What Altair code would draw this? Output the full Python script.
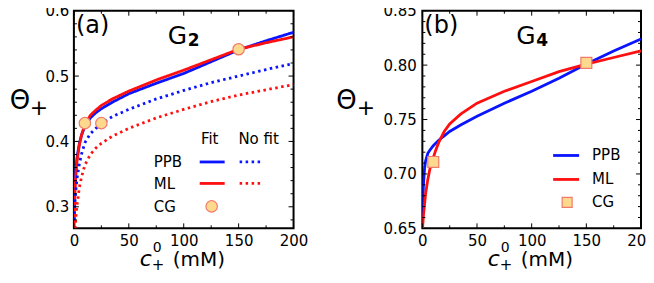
import altair as alt
import pandas as pd

# ---------------- data: panel (a) G2 ----------------
a_x_fit = [0.2, 0.5, 1, 2, 3, 5, 7, 10, 15, 20, 25, 35, 50, 75, 100, 125, 150, 175, 200]
a_ppb_fit = [0.300, 0.318, 0.338, 0.362, 0.377, 0.397, 0.410, 0.423, 0.436, 0.444, 0.450, 0.460,
             0.473, 0.489, 0.504, 0.522, 0.540, 0.554, 0.567]
a_ml_fit = [0.268, 0.300, 0.326, 0.354, 0.372, 0.395, 0.410, 0.426, 0.440, 0.448, 0.455, 0.465,
            0.477, 0.494, 0.509, 0.525, 0.541, 0.551, 0.560]
a_x_nofit = [0.3, 0.5, 1, 1.5, 2, 3, 5, 7, 10, 15, 20, 25, 35, 50, 75, 100, 125, 150, 175, 200]
a_ppb_nofit = [0.280, 0.290, 0.308, 0.320, 0.330, 0.345, 0.366, 0.381, 0.398, 0.412, 0.420, 0.427,
               0.438, 0.449, 0.465, 0.478, 0.490, 0.500, 0.510, 0.519]
a_ml_nofit = [0.230, 0.245, 0.262, 0.275, 0.288, 0.304, 0.330, 0.346, 0.364, 0.380, 0.390, 0.397,
              0.408, 0.420, 0.436, 0.449, 0.461, 0.471, 0.479, 0.487]
a_cg_x = [10, 25, 150]
a_cg_y = [0.428, 0.428, 0.541]

# ---------------- data: panel (b) G4 ----------------
b_x = [0.2, 0.5, 1, 2, 3, 5, 7, 10, 12, 15, 20, 25, 35, 50, 75, 100, 125, 150, 175, 200]
b_ppb = [0.660, 0.675, 0.690, 0.705, 0.712, 0.719, 0.722, 0.726, 0.728, 0.731, 0.735, 0.739,
         0.745, 0.753, 0.765, 0.776, 0.788, 0.801, 0.813, 0.824]
b_ml = [0.650, 0.655, 0.662, 0.672, 0.682, 0.695, 0.705, 0.715, 0.721, 0.729, 0.739, 0.746,
        0.755, 0.765, 0.776, 0.785, 0.794, 0.801, 0.807, 0.813]
b_cg_x = [10, 150]
b_cg_y = [0.711, 0.802]

x_major = [0, 50, 100, 150, 200]
x_minor = [25, 75, 125, 175]
a_y_major = [0.3, 0.4, 0.5, 0.6]
a_y_minor = [0.28, 0.32, 0.34, 0.36, 0.38, 0.42, 0.44, 0.46, 0.48, 0.52, 0.54, 0.56, 0.58]
b_y_major = [0.65, 0.70, 0.75, 0.80, 0.85]
b_y_minor = [0.66, 0.67, 0.68, 0.69, 0.71, 0.72, 0.73, 0.74, 0.76, 0.77, 0.78, 0.79,
             0.81, 0.82, 0.83, 0.84]

W_A, W_B, H = 220, 219, 218
FONT = "DejaVu Sans"
BLUE, RED = "#0a14ff", "#ff1010"
CG_FILL, CG_STROKE = "#fdd98e", "#f27a6a"

one = pd.DataFrame({"k": [0]})


def txt(t, x, y, size, align="left", baseline="middle", weight="normal", style="normal"):
    return alt.Chart(one).mark_text(text=t, font=FONT, fontSize=size, align=align,
                                    baseline=baseline, fontWeight=weight, fontStyle=style,
                                    color="black").encode(x=alt.value(x), y=alt.value(y))


def ticks(ys_major, ys_minor, W, xdom, ydom):
    xs_sc = alt.Scale(domain=xdom, nice=False, zero=False)
    ys_sc = alt.Scale(domain=ydom, nice=False, zero=False)
    layers = []
    for vals, ln in ((x_major, 5), (x_minor, 3)):
        d = pd.DataFrame({"v": vals})
        base = alt.Chart(d).mark_rule(color="black", strokeWidth=1)
        layers.append(base.encode(x=alt.X("v:Q", scale=xs_sc),
                                  y=alt.value(H), y2=alt.value(H - ln)))
        layers.append(base.encode(x=alt.X("v:Q", scale=xs_sc),
                                  y=alt.value(0), y2=alt.value(ln)))
    for vals, ln in ((ys_major, 5), (ys_minor, 3)):
        d = pd.DataFrame({"v": vals})
        base = alt.Chart(d).mark_rule(color="black", strokeWidth=1)
        layers.append(base.encode(y=alt.Y("v:Q", scale=ys_sc),
                                  x=alt.value(0), x2=alt.value(ln)))
        layers.append(base.encode(y=alt.Y("v:Q", scale=ys_sc),
                                  x=alt.value(W), x2=alt.value(W - ln)))
    return layers


def xtitle(W):
    c = W / 2 - 44
    return [
        txt("c", c, 256, 22, baseline="alphabetic", style="italic"),
        txt("0", c + 13, 237.5, 14),
        txt("+", c + 12, 254.5, 15),
        txt("(mM)", c + 33, 256, 20, baseline="alphabetic"),
    ]


# ---------------- panel (a) ----------------
rows = []
for x, y in zip(a_x_fit, a_ppb_fit):
    rows.append({"x": x, "y": y, "s": "PPB fit"})
for x, y in zip(a_x_fit, a_ml_fit):
    rows.append({"x": x, "y": y, "s": "ML fit"})
for x, y in zip(a_x_nofit, a_ppb_nofit):
    rows.append({"x": x, "y": y, "s": "PPB no fit"})
for x, y in zip(a_x_nofit, a_ml_nofit):
    rows.append({"x": x, "y": y, "s": "ML no fit"})
df_a = pd.DataFrame(rows)

a_xdom, a_ydom = [0, 200], [0.267, 0.6]
xa = alt.Scale(domain=a_xdom, nice=False, zero=False)
ya = alt.Scale(domain=a_ydom, nice=False, zero=False)
x_axis = alt.Axis(values=x_major, title=None, ticks=False, domain=False, grid=False,
                  labelFont=FONT, labelFontSize=15, labelColor="black", labelPadding=5,
                  labelFlush=False)
ya_axis = alt.Axis(values=a_y_major, format=".1f", title=None, ticks=False, domain=False,
                   grid=False, labelFont=FONT, labelFontSize=15, labelColor="black",
                   labelPadding=5)

series_order = ["PPB no fit", "ML no fit", "PPB fit", "ML fit"]
lines_a = alt.Chart(df_a).mark_line(clip=True, strokeWidth=2.8).encode(
    x=alt.X("x:Q", scale=xa, axis=x_axis),
    y=alt.Y("y:Q", scale=ya, axis=ya_axis),
    color=alt.Color("s:N", scale=alt.Scale(domain=series_order, range=[BLUE, RED, BLUE, RED]),
                    legend=None),
    strokeDash=alt.StrokeDash("s:N", scale=alt.Scale(domain=series_order,
                                                      range=[[2.5, 3.5], [2.5, 3.5], [1, 0], [1, 0]]),
                              legend=None),
    order=alt.Order("x:Q"),
    detail="s:N",
)
cg_a = alt.Chart(pd.DataFrame({"x": a_cg_x, "y": a_cg_y})).mark_point(
    shape="circle", filled=True, size=130, fill=CG_FILL, stroke=CG_STROKE, strokeWidth=1.2,
    opacity=1).encode(x=alt.X("x:Q", scale=xa), y=alt.Y("y:Q", scale=ya))

legend_a = [
    txt("Fit", 136, 129, 15, align="center"),
    txt("No fit", 185, 129, 15, align="center"),
    txt("PPB", 80, 151.5, 15),
    txt("ML", 80, 173.5, 15),
    txt("CG", 80, 196.5, 15),
    alt.Chart(one).mark_rule(color=BLUE, strokeWidth=2.8).encode(
        x=alt.value(126), x2=alt.value(151), y=alt.value(151.5)),
    alt.Chart(one).mark_rule(color=RED, strokeWidth=2.8).encode(
        x=alt.value(126), x2=alt.value(151), y=alt.value(173)),
    alt.Chart(one).mark_rule(color=BLUE, strokeWidth=2.8, strokeDash=[2.5, 3.5]).encode(
        x=alt.value(166), x2=alt.value(189), y=alt.value(151.5)),
    alt.Chart(one).mark_rule(color=RED, strokeWidth=2.8, strokeDash=[2.5, 3.5]).encode(
        x=alt.value(166), x2=alt.value(189), y=alt.value(173)),
    alt.Chart(one).mark_point(shape="circle", filled=True, size=130, fill=CG_FILL,
                              stroke=CG_STROKE, strokeWidth=1.2, opacity=1).encode(
        x=alt.value(138), y=alt.value(196)),
]

labels_a = [
    txt("(a)", 2, 15, 24),
    txt("G", 94, 33, 25, baseline="alphabetic"),
    txt("2", 114, 35, 17, baseline="alphabetic", weight="bold"),
    txt("\u0398", -54, 90, 26, align="center"),
    txt("+", -35, 97, 22, align="center"),
]

panel_a = alt.layer(
    lines_a, cg_a, *ticks(a_y_major, a_y_minor, W_A, a_xdom, a_ydom),
    *legend_a, *labels_a, *xtitle(W_A),
).properties(width=W_A, height=H)

# ---------------- panel (b) ----------------
rows = []
for x, y in zip(b_x, b_ppb):
    rows.append({"x": x, "y": y, "s": "PPB"})
for x, y in zip(b_x, b_ml):
    rows.append({"x": x, "y": y, "s": "ML"})
df_b = pd.DataFrame(rows)

b_xdom, b_ydom = [0, 200], [0.65, 0.85]
xb = alt.Scale(domain=b_xdom, nice=False, zero=False)
yb = alt.Scale(domain=b_ydom, nice=False, zero=False)
yb_axis = alt.Axis(values=b_y_major, format=".2f", title=None, ticks=False, domain=False,
                   grid=False, labelFont=FONT, labelFontSize=15, labelColor="black",
                   labelPadding=6)

lines_b = alt.Chart(df_b).mark_line(clip=True, strokeWidth=2.8).encode(
    x=alt.X("x:Q", scale=xb, axis=x_axis),
    y=alt.Y("y:Q", scale=yb, axis=yb_axis),
    color=alt.Color("s:N", scale=alt.Scale(domain=["PPB", "ML"], range=[BLUE, RED]), legend=None),
    order=alt.Order("x:Q"),
    detail="s:N",
)
cg_b = alt.Chart(pd.DataFrame({"x": b_cg_x, "y": b_cg_y})).mark_point(
    shape="square", filled=True, size=120, fill=CG_FILL, stroke=CG_STROKE, strokeWidth=1.2,
    opacity=1).encode(x=alt.X("x:Q", scale=xb), y=alt.Y("y:Q", scale=yb))

legend_b = [
    alt.Chart(one).mark_rule(color=BLUE, strokeWidth=2.8).encode(
        x=alt.value(131), x2=alt.value(157), y=alt.value(145)),
    alt.Chart(one).mark_rule(color=RED, strokeWidth=2.8).encode(
        x=alt.value(131), x2=alt.value(157), y=alt.value(169)),
    alt.Chart(one).mark_point(shape="square", filled=True, size=100, fill=CG_FILL,
                              stroke=CG_STROKE, strokeWidth=1.2, opacity=1).encode(
        x=alt.value(145), y=alt.value(192)),
    txt("PPB", 170, 145, 15),
    txt("ML", 170, 169, 15),
    txt("CG", 170, 192, 15),
]
labels_b = [
    txt("(b)", 2, 15, 24),
    txt("G", 94, 33, 25, baseline="alphabetic"),
    txt("4", 114, 35, 17, baseline="alphabetic", weight="bold"),
    txt("\u0398", -76, 90, 26, align="center"),
    txt("+", -56.5, 97, 22, align="center"),
]

panel_b = alt.layer(
    lines_b, cg_b, *ticks(b_y_major, b_y_minor, W_B, b_xdom, b_ydom),
    *legend_b, *labels_b, *xtitle(W_B),
).properties(width=W_B, height=H)

chart = alt.hconcat(panel_a, panel_b, spacing=25).properties(
    padding={"left": 0, "top": -5.5, "right": -11, "bottom": -2}
).configure(background="white").configure_view(stroke="black", strokeWidth=2)

chart.save("out.html", embed_options={"renderer": "svg", "actions": False})
